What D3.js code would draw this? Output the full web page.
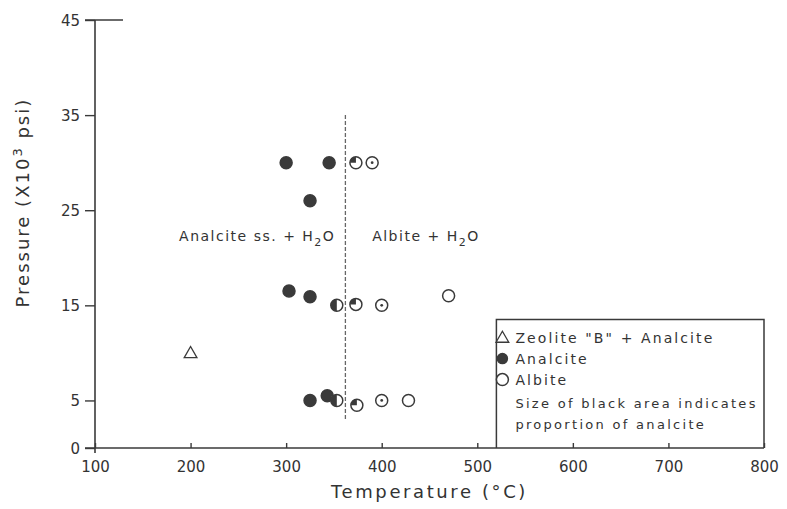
<!DOCTYPE html>
<head>
  <meta charset="utf-8">
  <script src="https://d3js.org/d3.v7.min.js"></script>
  <style>
    body { margin:0; background:#fff; }
    text { font-family: "DejaVu Sans", sans-serif; fill:#333; }
  </style>
</head>
<body>
<script>
  // experiment points: temperature (C), pressure (x10^3 psi), analcite fraction
  // fraction: 1 = analcite, 0 = albite, "dot" = albite with trace, "tri" = zeolite B + analcite
  var temps     = [300, 345, 373, 390, 325, 303, 325, 353, 373, 400, 470, 200, 325, 343, 353, 374, 400, 428];
  var pressures = [30,  30,  30,  30,  26,  16.5, 15.9, 15, 15.1, 15, 16,  10,  5,   5.5, 5,   4.5, 5,   5];
  var phases    = [1,   1,   0.25, "dot", 1, 1,  1,   0.5, 0.25, "dot", 0, "tri", 1, 1, 0.5, 0.25, "dot", 0];

  var xTicks = [100, 200, 300, 400, 500, 600, 700, 800];
  var yTicks = [0, 5, 15, 25, 35, 45];
  var boundaryT = 362, boundaryP = [3, 35];

  var legendItems = ["tri", 1, 0];
  var legendLabels = ["Zeolite \"B\" + Analcite", "Analcite", "Albite"];

  var svg = d3.select("body").append("svg")
    .attr("width", 787).attr("height", 509);

  var x = d3.scaleLinear().domain([100, 800]).range([95, 764]);
  var y = d3.scaleLinear().domain([0, 45]).range([448, 20]);

  var ink = "#3a3a3a";

  // axis lines
  svg.append("line").attr("x1", x(100)).attr("x2", x(100))
    .attr("y1", y(45)).attr("y2", y(0) + 5)
    .attr("stroke", ink).attr("stroke-width", 1.6);
  svg.append("line").attr("x1", x(100) - 10).attr("x2", x(800))
    .attr("y1", y(0)).attr("y2", y(0))
    .attr("stroke", ink).attr("stroke-width", 1.6);
  // top line at 45
  svg.append("line").attr("x1", x(100) - 10).attr("x2", x(100) + 28)
    .attr("y1", y(45)).attr("y2", y(45))
    .attr("stroke", ink).attr("stroke-width", 1.6);

  var yAxis = svg.append("g")
    .attr("transform", "translate(" + x(100) + ",0)")
    .call(d3.axisLeft(y).tickValues(yTicks).tickSize(10).tickPadding(5));
  yAxis.select(".domain").remove();
  yAxis.selectAll("line").attr("stroke", ink).attr("stroke-width", 1.4);
  yAxis.selectAll("text").style("font-size", "15px").attr("fill", "#333")
    .style("font-family", "DejaVu Sans").attr("dy", "0.35em");

  var xAxis = svg.append("g")
    .attr("transform", "translate(0," + y(0) + ")")
    .call(d3.axisTop(x).tickValues(xTicks).tickSize(5).tickFormat(d3.format("d")));
  xAxis.select(".domain").remove();
  xAxis.selectAll("line").attr("stroke", ink).attr("stroke-width", 1.4);
  xAxis.selectAll("text").attr("y", 19).attr("dy", "0.35em")
    .style("font-size", "15px").attr("fill", "#333").style("font-family", "DejaVu Sans");

  // axis titles
  svg.append("text").attr("x", x(450)).attr("y", 498)
    .attr("text-anchor", "middle").style("font-size", "18px").style("letter-spacing", "2.6px")
    .text("Temperature (°C)");
  var yt = svg.append("text")
    .attr("transform", "translate(29," + y(25.8) + ") rotate(-90)")
    .attr("text-anchor", "middle").style("font-size", "18px").style("letter-spacing", "2px");
  yt.append("tspan").text("Pressure (X10");
  yt.append("tspan").attr("dy", -7).style("font-size", "13px").text("3");
  yt.append("tspan").attr("dy", 7).text(" psi)");

  // phase boundary
  svg.append("line")
    .attr("x1", x(boundaryT)).attr("x2", x(boundaryT))
    .attr("y1", y(boundaryP[1])).attr("y2", y(boundaryP[0]))
    .attr("stroke", "#666").attr("stroke-width", 1.3).attr("stroke-dasharray", "4,2");

  // field labels
  function fieldLabel(tx, ty, parts) {
    var t = svg.append("text").attr("x", tx).attr("y", ty)
      .style("font-size", "14px").style("letter-spacing", "1.5px");
    t.append("tspan").text(parts[0] + "H");
    t.append("tspan").attr("dy", 5).style("font-size", "11px").text("2");
    t.append("tspan").attr("dy", -5).text("O");
  }
  fieldLabel(x(188), y(21.8), ["Analcite  ss.  + "]);
  fieldLabel(x(390), y(21.8), ["Albite + "]);

  // symbols
  var r = 6;
  var arc = d3.arc().innerRadius(0).outerRadius(r);
  function drawSymbol(g, phase) {
    if (phase === "tri") {
      g.append("path").attr("d", d3.symbol().type(d3.symbolTriangle).size(70)())
        .attr("transform", "translate(0,1)")
        .attr("fill", "#fff").attr("stroke", ink).attr("stroke-width", 1.3);
      return;
    }
    g.append("circle").attr("r", r)
      .attr("fill", phase === 1 ? ink : "#fff")
      .attr("stroke", ink).attr("stroke-width", 1.5);
    if (typeof phase === "number" && phase > 0 && phase < 1) {
      g.append("path").attr("d", arc({startAngle: -Math.PI * 2 * phase, endAngle: 0}))
        .attr("fill", ink);
    }
    if (phase === "dot") {
      g.append("circle").attr("r", 1.4).attr("fill", ink);
    }
  }

  temps.forEach(function(t, i) {
    var g = svg.append("g").attr("transform", "translate(" + x(t) + "," + y(pressures[i]) + ")");
    drawSymbol(g, phases[i]);
  });

  // legend box
  var lx = x(520), ly = y(13.5);
  svg.append("path")
    .attr("d", "M" + lx + "," + y(0) + "V" + ly + "H" + x(800) + "V" + y(0))
    .attr("fill", "none").attr("stroke", ink).attr("stroke-width", 1.5);

  legendItems.forEach(function(p, i) {
    var cy = ly + 18 + i * 21;
    var g = svg.append("g").attr("transform", "translate(" + (lx + 6) + "," + cy + ")");
    if (p === 1) g.attr("transform", "translate(" + (lx + 6) + "," + cy + ") scale(0.85)");
    drawSymbol(g, p);
    svg.append("text").attr("x", lx + 19).attr("y", cy).attr("dy", "0.35em")
      .style("font-size", "14px").style("letter-spacing", "2.1px")
      .text(legendLabels[i]);
  });
  svg.append("text").attr("x", lx + 19).attr("y", ly + 84).attr("dy", "0.35em")
    .style("font-size", "13px").style("letter-spacing", "2.3px")
    .text("Size of black area indicates");
  svg.append("text").attr("x", lx + 19).attr("y", ly + 105).attr("dy", "0.35em")
    .style("font-size", "13px").style("letter-spacing", "2.3px")
    .text("proportion  of  analcite");
</script>
</body>
